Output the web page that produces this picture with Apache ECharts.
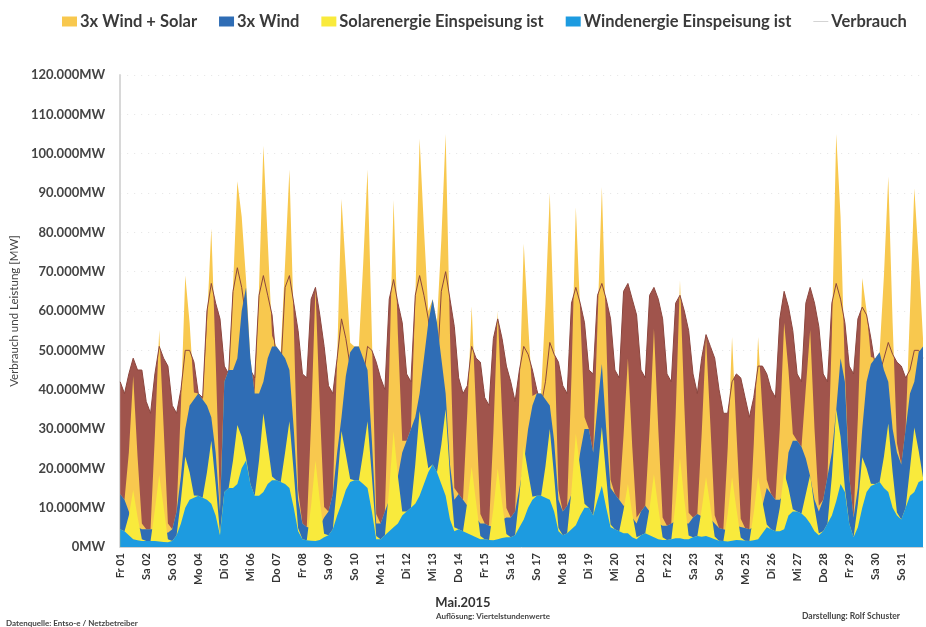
<!DOCTYPE html>
<html>
<head>
<meta charset="utf-8">
<title>Verbrauch und Leistung Mai 2015</title>
<script src="https://cdn.jsdelivr.net/npm/echarts@6/dist/echarts.min.js"></script>
<style>
  html, body { margin: 0; padding: 0; background: #fff; }
  #chart { width: 926px; height: 627px; }
</style>
</head>
<body>
<div id="chart"></div>
<script>
// Tage im Mai 2015
const days = ['Fr 01','Sa 02','So 03','Mo 04','Di 05','Mi 06','Do 07','Fr 08','Sa 09','So 10',
  'Mo 11','Di 12','Mi 13','Do 14','Fr 15','Sa 16','So 17','Mo 18','Di 19','Mi 20',
  'Do 21','Fr 22','Sa 23','So 24','Mo 25','Di 26','Mi 27','Do 28','Fr 29','Sa 30','So 31'];
// Stützstellen je Tag
const hours = ['00:00','04:00','08:00','12:00','16:00','20:00'];

// alle Werte in Tsd. MW, je Zeile ein Tag (0, 4, 8, 12, 16, 20 Uhr)
const verbrauch = [
  42, 39, 44, 48, 45, 45,
  37, 34, 44, 51, 48, 46,
  36, 34, 40, 50, 50, 47,
  39, 38, 60, 67, 62, 58,
  46, 44, 65, 71, 66, 58,
  45, 43, 64, 69, 64, 59,
  47, 45, 66, 69, 62, 55,
  44, 43, 63, 66, 59, 51,
  41, 39, 48, 58, 53, 46,
  41, 38, 43, 51, 50, 47,
  43, 40, 63, 68, 62, 57,
  44, 42, 64, 69, 64, 58,
  46, 44, 65, 70, 63, 56,
  43, 39, 41, 51, 48, 47,
  38, 36, 53, 58, 53, 46,
  42, 37, 45, 51, 49, 45,
  40, 36, 42, 52, 49, 47,
  41, 39, 62, 66, 62, 57,
  45, 44, 64, 67, 63, 58,
  45, 43, 65, 67, 63, 59,
  45, 43, 64, 66, 63, 58,
  44, 42, 62, 64, 60, 55,
  44, 39, 48, 54, 51, 48,
  40, 34, 34, 42, 44, 43,
  38, 33, 38, 46, 46, 44,
  40, 38, 58, 65, 61, 55,
  44, 42, 62, 66, 62, 56,
  44, 42, 62, 67, 63, 57,
  46, 44, 58, 61, 59, 53,
  46, 44, 48, 52, 49, 47,
  46, 43, 45, 50, 50, 48
];

const wind = [
  4.5, 4, 3, 2, 1.7, 1.5,
  1.5, 1.5, 1.5, 1.4, 1.3, 1.2,
  1.5, 3, 6, 10, 12, 12.5,
  13, 12.5, 12, 11, 8, 3,
  14, 15, 15, 16, 20, 22,
  16, 13, 13, 14, 16, 17,
  17, 16.5, 16, 15, 10, 4,
  2, 1.7, 1.6, 1.5, 1.8, 2.5,
  3, 4.5, 8, 11, 14.5, 16.5,
  17, 17, 16, 15, 9, 2,
  2, 3, 4, 5, 6, 8,
  9, 10, 11, 13, 16, 19,
  21, 19, 16, 13, 7, 4,
  4.5, 4, 3.5, 3, 2.5, 2,
  2, 1.8, 1.7, 2, 2.3, 2.5,
  2.5, 3, 5, 7, 10, 12,
  13, 13, 12.5, 12, 9, 4,
  3, 3.5, 4.5, 5.5, 8, 10,
  10, 8, 12, 15.5, 10, 5,
  4.5, 4, 3.5, 3.5, 2.5, 2,
  3, 3.5, 3, 2.5, 2, 1.8,
  1.8, 2, 2.2, 2.2, 2, 2,
  2.5, 2.8, 2.6, 2.8, 2.4, 2,
  1.6, 1.5, 1.4, 1.6, 1.8, 1.7,
  1.6, 1.5, 1.7, 2, 3.5, 5,
  4.5, 4, 4, 4.5, 8, 9,
  9, 8.5, 7.5, 6, 4, 3,
  4, 6, 8, 11.6, 16, 14,
  6, 2.5, 5, 10, 14, 15.5,
  16, 16.5, 15, 14, 10, 8,
  7, 10, 13, 14, 16.5, 17
];

const solar = [
  0, 0, 5, 12.5, 6, 0.5,
  0, 0, 8, 17, 9, 0.8,
  0, 0, 6, 13, 7, 0.6,
  0, 0, 7, 16, 8, 0.7,
  0, 0, 7, 15, 8, 0.7,
  0, 0, 9, 20, 10, 0.9,
  0, 0, 8, 17, 9, 0.8,
  0, 0, 9, 20.5, 10, 0.9,
  0, 0, 8, 18.5, 9, 0.8,
  0, 0, 8, 17, 9, 0.8,
  0, 0, 11, 24.4, 12, 1,
  0, 0, 10, 21.6, 11, 1,
  0, 0, 10, 22, 11, 1,
  0, 0, 8, 17.4, 9, 0.8,
  0, 0, 8, 18, 9, 0.8,
  0, 0, 8, 18.7, 9, 0.8,
  0, 0, 8, 18, 9, 0.8,
  0, 0, 10, 23.3, 12, 1,
  0, 0, 7, 15, 8, 0.7,
  0, 0, 6, 12.5, 6, 0.5,
  0, 0, 7, 16, 8, 0.7,
  0, 0, 9, 20.4, 10, 0.9,
  0, 0, 7, 15, 8, 0.7,
  0, 0, 7, 16.2, 8, 0.7,
  0, 0, 7, 15.8, 8, 0.7,
  0, 0, 6, 14.5, 7, 0.6,
  0, 0, 6, 12.4, 6, 0.5,
  0, 0, 10, 23.4, 12, 1,
  0, 0, 6, 12.8, 6, 0.6,
  0, 0, 8, 17.4, 9, 0.8,
  0, 0, 7, 16.4, 8, 0.7
];

const yTicks = [0, 10, 20, 30, 40, 50, 60, 70, 80, 90, 100, 110, 120];

// abgeleitete Reihen
const categories = days.flatMap(d => hours.map(h => d + '|' + h));
const windSolar = wind.map((w, i) => w + solar[i]);
const wind3 = wind.map(w => 3 * w);
const wind3Solar = windSolar.map(v => 3 * v);

const FONT = 'Lato';
// duenne Linie als Legendensymbol
const LINE_ICON = 'path://M0,0 L0.01,0 L0.01,0.01 Z M0,4.6 L20,4.6 L20,5.4 L0,5.4 Z M0,10 L0.01,10 L0.01,9.99 Z';

function area(name, data, color, z) {
  return {
    name: name,
    type: 'line',
    data: data,
    symbol: 'none',
    lineStyle: { width: 0, color: color },
    itemStyle: { color: color },
    areaStyle: { color: color, opacity: 1 },
    silent: true,
    z: z
  };
}

var chartDom = document.getElementById('chart');
var myChart = echarts.init(chartDom);
var option;

option = {
  animation: false,
  backgroundColor: '#fff',
  textStyle: { fontFamily: FONT },
  legend: {
    left: 57,
    top: 8,
    itemGap: 22,
    itemWidth: 15,
    itemHeight: 10,
    textStyle: { fontFamily: FONT, fontSize: 16.5, fontWeight: 'bold', color: '#3a3a3a', padding: [0, 0, 0, -2] },
    data: [
      { name: '3x Wind + Solar', icon: 'rect' },
      { name: '3x Wind', icon: 'rect' },
      { name: 'Solarenergie Einspeisung ist', icon: 'rect' },
      { name: 'Windenergie Einspeisung ist', icon: 'rect' },
      { name: 'Verbrauch', icon: LINE_ICON, itemStyle: { color: '#aaa' } }
    ]
  },
  grid: { left: 115, right: 3, top: 75, bottom: 80 },
  xAxis: {
    type: 'category',
    boundaryGap: false,
    data: categories,
    axisLine: { lineStyle: { color: '#d0d0d0' } },
    axisTick: { show: false },
    axisLabel: {
      interval: (idx) => idx % hours.length === 0,
      rotate: 90,
      margin: 6,
      padding: [12, 0, 0, 0],
      fontFamily: FONT,
      fontSize: 11,
      fontWeight: 'bold',
      color: '#333',
      formatter: (v) => v.split('|')[0]
    },
    splitLine: { show: false }
  },
  yAxis: {
    type: 'value',
    min: yTicks[0],
    max: yTicks[yTicks.length - 1],
    interval: 10,
    name: 'Verbrauch und Leistung [MW]',
    nameLocation: 'middle',
    nameRotate: 90,
    nameGap: 93,
    nameTextStyle: { fontFamily: FONT, fontSize: 11.5, color: '#444' },
    axisLine: { show: true, lineStyle: { color: '#d8d8d8', width: 2 } },
    axisTick: { show: false },
    axisLabel: {
      margin: 15,
      fontFamily: FONT,
      fontSize: 13,
      fontWeight: 'bold',
      color: '#444',
      formatter: (v) => (v === 0 ? '0' : v + '.000') + 'MW'
    },
    splitLine: { lineStyle: { color: '#e4e4e4', type: [1, 6] } }
  },
  graphic: [
    { type: 'text', left: 'center', top: 596, style: { text: 'Mai.2015', font: 'bold 13px Lato', fill: '#333' } },
    { type: 'text', left: 436, top: 612, style: { text: 'Auflösung: Viertelstundenwerte', font: 'bold 8px Lato', fill: '#444' } },
    { type: 'text', left: 6, top: 619, style: { text: 'Datenquelle: Entso-e / Netzbetreiber', font: 'bold 8px Lato', fill: '#444' } },
    { type: 'text', left: 802, top: 612, style: { text: 'Darstellung: Rolf Schuster', font: 'bold 8.5px Lato', fill: '#444' } }
  ],
  series: [
    area('Verbrauch Fläche', verbrauch, '#a0544c', 1),
    area('3x Wind + Solar', wind3Solar, '#f8c84e', 2),
    {
      name: 'Verbrauch',
      type: 'line',
      data: verbrauch,
      symbol: 'none',
      lineStyle: { width: 1, color: '#8c463e' },
      itemStyle: { color: '#8c463e' },
      silent: true,
      z: 3
    },
    area('3x Wind', wind3, '#2f6db5', 4),
    area('Solarenergie Einspeisung ist', windSolar, '#f9ea3c', 5),
    area('Windenergie Einspeisung ist', wind, '#1d9be0', 6)
  ]
};

option && myChart.setOption(option);
</script>
</body>
</html>
